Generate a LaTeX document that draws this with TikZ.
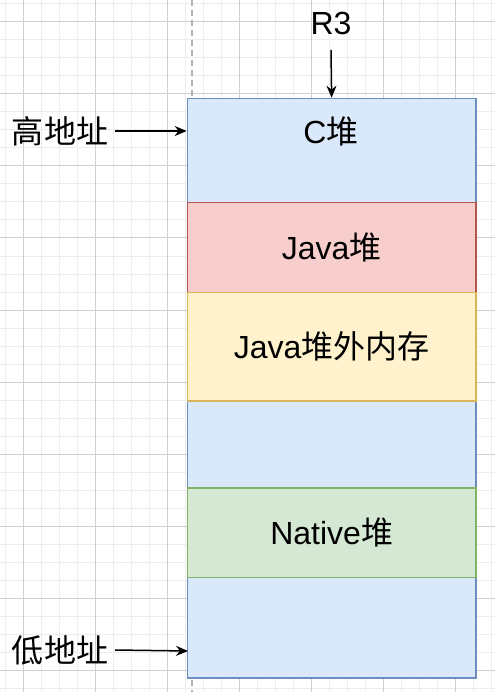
\documentclass[tikz,border=0pt]{standalone}
\usepackage{fontspec}
\setmainfont{Liberation Sans}
\newfontfamily\cjk{Noto Sans CJK SC}
\usetikzlibrary{arrows.meta}

\definecolor{blueFill}{HTML}{DAE8FC}
\definecolor{blueLine}{HTML}{6C8EBF}
\definecolor{redFill}{HTML}{F8CECC}
\definecolor{redLine}{HTML}{B85450}
\definecolor{yellowFill}{HTML}{FFF2CC}
\definecolor{yellowLine}{HTML}{D6B656}
\definecolor{greenFill}{HTML}{D5E8D4}
\definecolor{greenLine}{HTML}{82B366}

\begin{document}
\begin{tikzpicture}[x=1pt,y=-1pt,
		minorln/.style={draw=black!7,line width=1pt},
		majorln/.style={draw=black!19,line width=1pt},
		blk/.style={draw,line width=1.6pt,anchor=north west,minimum width=288.3pt,inner sep=0pt,
			font=\fontsize{32}{38}\selectfont},
		lbl/.style={inner sep=0pt,font=\fontsize{32}{38}\selectfont},
		ptr/.style={-{Stealth[length=12pt,width=10pt]},line width=1.5pt}]
			\useasboundingbox (0,0) rectangle (495,692);
			\fill[white] (0,0) rectangle (495,692);
			
			% grid
			\foreach \g in {5.5,23.5,...,495} \draw[minorln] (\g,0) -- (\g,692);
			\foreach \g in {4,22,...,692} \draw[minorln] (0,\g) -- (495,\g);
			\foreach \g in {23.5,95.5,...,495} \draw[majorln] (\g,0) -- (\g,692);
			\foreach \g in {22,94,...,692} \draw[majorln] (0,\g) -- (495,\g);
			
			\draw[black!30,line width=1.6pt,dash pattern=on 6pt off 4pt] (192,0) -- (192,692);
			
			% memory blocks
			\node[blk,fill=blueFill,draw=blueLine,minimum height=579.3pt] (mem) at (186.7,97.7) {};
			\node[blk,fill=redFill,draw=redLine,minimum height=90pt] (javaheap) at (186.7,201.7) {Java{\cjk 堆}};
			\node[blk,fill=yellowFill,draw=yellowLine,minimum height=108.3pt] (offheap) at (186.7,291.7) {Java{\cjk 堆外内存}};
			\node[blk,fill=greenFill,draw=greenLine,minimum height=89.7pt] (native) at (186.7,487) {Native{\cjk 堆}};
			
			\node[lbl] (cheap) at (331,131) {C{\cjk 堆}};
			\node[lbl] (r3) at (331,23) {R3};
			\node[lbl] (hi) at (60,131) {\cjk 高地址};
			\node[lbl] (lo) at (60,650) {\cjk 低地址};
			
			\coordinate (r3tail) at (331,50);
			\coordinate (loend) at (188,651);
			
			\draw[ptr] (r3tail) -- (mem.north);
			\draw[ptr] ([xshift=7pt]hi.east) -- (hi -| mem.west);
			\draw[ptr] ([xshift=7pt]lo.east) -- (loend);
\end{tikzpicture}
\end{document}
